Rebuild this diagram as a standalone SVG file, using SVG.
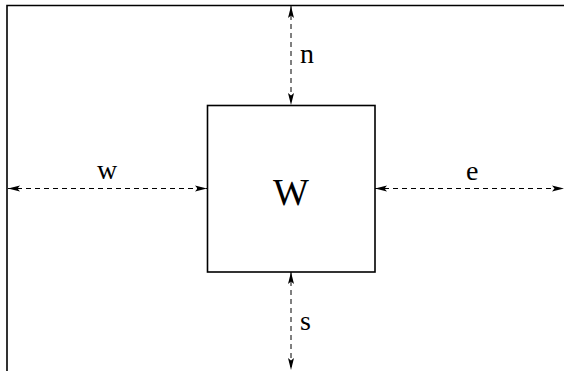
<svg xmlns="http://www.w3.org/2000/svg" width="564" height="371" viewBox="0 0 564 371">
<style>
.frame{fill:none;stroke:#000;stroke-width:1.6}
.dim{fill:none;stroke:#000;stroke-width:1;stroke-dasharray:5 4}
.lbl{font-family:"Liberation Serif",serif;font-size:28px;fill:#000}
.big{font-family:"Liberation Serif",serif;font-size:38px;fill:#000;text-anchor:middle}
</style>
<defs>
<marker id="ah" viewBox="0 0 12 8" refX="12" refY="4" markerWidth="12" markerHeight="8" markerUnits="userSpaceOnUse" orient="auto-start-reverse">
<path d="M0,1 L12,4 L0,7 L2.5,4 z" fill="#000"/>
</marker>
</defs>
<g id="frame">
<path class="frame" d="M7,371 V5.5 H564"/>
</g>
<g id="box">
<rect class="frame" x="207.5" y="105.5" width="167.5" height="166.5"/>
<text class="big" x="291" y="205">W</text>
</g>
<g id="connectors">
<line class="dim" x1="291" y1="6" x2="291" y2="105" marker-start="url(#ah)" marker-end="url(#ah)"/>
<line class="dim" x1="291" y1="272" x2="291" y2="370" marker-start="url(#ah)" marker-end="url(#ah)"/>
<line class="dim" x1="8" y1="188.5" x2="207" y2="188.5" marker-start="url(#ah)" marker-end="url(#ah)"/>
<line class="dim" x1="375" y1="188.5" x2="564" y2="188.5" marker-start="url(#ah)" marker-end="url(#ah)"/>
</g>
<g id="labels">
<text class="lbl" x="300" y="63">n</text>
<text class="lbl" x="300" y="330">s</text>
<text class="lbl" x="97" y="179">w</text>
<text class="lbl" x="466" y="180">e</text>
</g>
</svg>
